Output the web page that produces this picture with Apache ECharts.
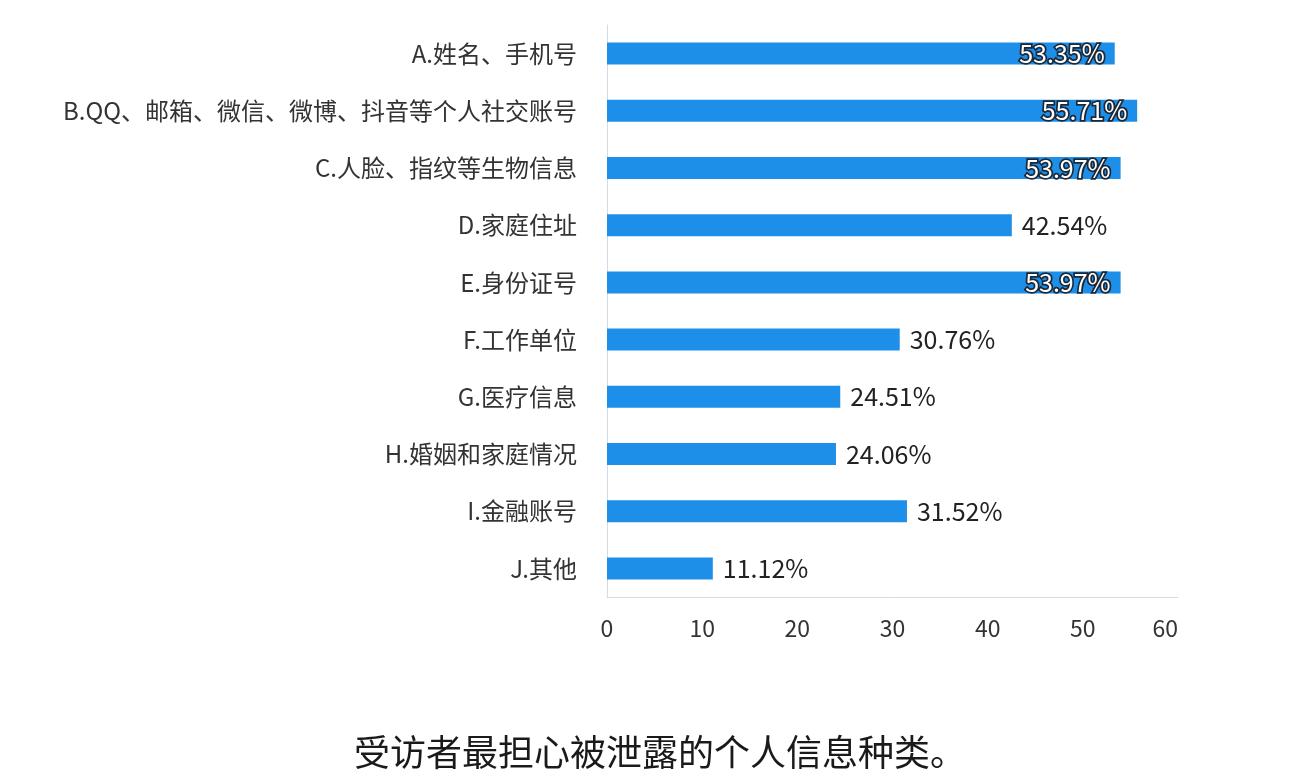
<!DOCTYPE html>
<html>
<head>
<meta charset="utf-8">
<script src="https://cdn.jsdelivr.net/npm/echarts@6/dist/echarts.min.js"></script>
<style>
html,body{margin:0;padding:0;background:#fff;}
#main{width:1294px;height:778px;}
</style>
</head>
<body>
<div id="main"></div>
<script>
var categories = [
  "A.姓名、手机号",
  "B.QQ、邮箱、微信、微博、抖音等个人社交账号",
  "C.人脸、指纹等生物信息",
  "D.家庭住址",
  "E.身份证号",
  "F.工作单位",
  "G.医疗信息",
  "H.婚姻和家庭情况",
  "I.金融账号",
  "J.其他"
];
var values = [53.35, 55.71, 53.97, 42.54, 53.97, 30.76, 24.51, 24.06, 31.52, 11.12];
var titleText = "受访者最担心被泄露的个人信息种类。";

var font = "'Noto Sans CJK SC', 'Noto Sans', sans-serif";
var chart = echarts.init(document.getElementById('main'));
var data = values.map(function (v) {
  var inside = v > 50;
  return {
    value: v,
    label: inside ? {
      position: 'insideRight',
      distance: 10,
      color: '#ffffff',
      textBorderColor: '#1b2838',
      textBorderWidth: 3.5
    } : {
      position: 'right',
      distance: 10,
      color: '#222222'
    }
  };
});
chart.setOption({
  backgroundColor: '#ffffff',
  animation: false,
  title: {
    text: titleText,
    left: 349,
    bottom: 3,
    textStyle: {fontFamily: font, fontSize: 36, fontWeight: 'normal', color: '#1a1a1a'}
  },
  grid: {left: 607, right: 116, top: 25, bottom: 181},
  xAxis: {
    type: 'value',
    min: 0, max: 60, interval: 10,
    axisLine: {show: true, lineStyle: {color: '#d5dbe3', width: 1}},
    axisTick: {show: false},
    splitLine: {show: false},
    axisLabel: {fontFamily: font, fontSize: 23, color: '#333333', margin: 20, alignMaxLabel: 'right'}
  },
  yAxis: {
    type: 'category',
    inverse: true,
    data: categories,
    axisLine: {show: true, lineStyle: {color: '#d5dbe3', width: 1}},
    axisTick: {show: false},
    axisLabel: {fontFamily: font, fontSize: 24, color: '#333333', margin: 30}
  },
  series: [{
    type: 'bar',
    data: data,
    barWidth: 22,
    itemStyle: {color: '#1e8fe8'},
    label: {
      show: true,
      fontFamily: font,
      fontSize: 25,
      formatter: function (p) { return p.value.toFixed(2) + '%'; }
    }
  }]
});
</script>
</body>
</html>
